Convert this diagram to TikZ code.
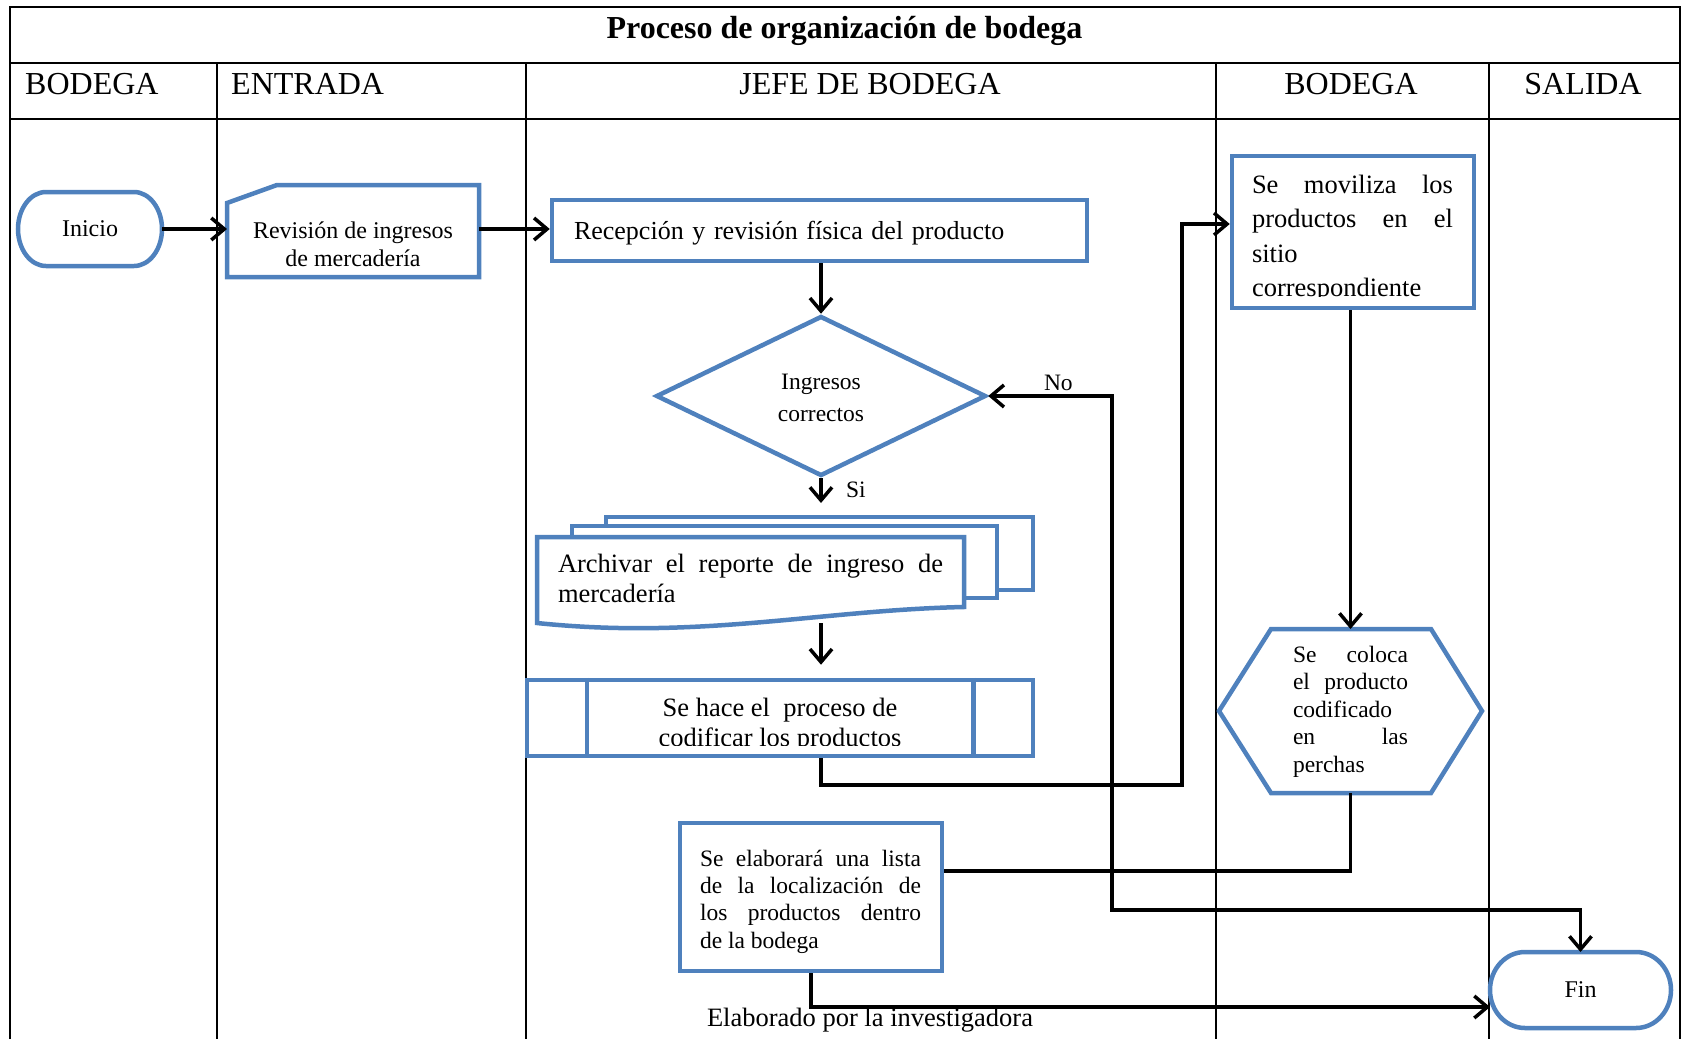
\documentclass[tikz,border=0pt]{standalone}
\usepackage{fontspec}
\setmainfont{Liberation Serif}
\usetikzlibrary{arrows.meta,calc,shapes.geometric}
\definecolor{boxblue}{RGB}{79,129,189}
\newcommand\fsz[2]{\fontsize{#1}{#2}\selectfont}
\newcommand\termpath[3]{%
  \draw[bluebox] ([xshift=#2]#1.north west) -- ([xshift=-#2]#1.north east)
    arc[start angle=90, end angle=-90, x radius=#2, y radius=#3]
    -- ([xshift=#2]#1.south west)
    arc[start angle=270, end angle=90, x radius=#2, y radius=#3] -- cycle;}
\tikzset{
  frameline/.style={line width=2pt, black},
  bluebox/.style={draw=boxblue, line width=4.5pt},
  shapebox/.style={draw=none, inner sep=0pt, outer sep=0pt},
  barb/.tip={Straight Barb[length=13pt,width=22pt,line width=3.5pt]},
  arr/.style={line width=3.5pt, -barb},
  biarr/.style={line width=3.5pt, barb-barb},
  conn/.style={line width=3.5pt},
  hdr/.style={font=\fsz{32}{38}, inner sep=0pt, anchor=base},
  txt/.style={inner sep=0pt, outer sep=0pt},
}
\begin{document}
\begin{tikzpicture}[x=1pt,y=-1pt]
\useasboundingbox (0,0) rectangle (1684,1039);
% frame
\draw[frameline] (10,1039) -- (10,7) -- (1680,7) -- (1680,1039);
\draw[frameline] (10,63) -- (1680,63) (10,119) -- (1680,119);
\draw[frameline] (217,63) -- (217,1039) (526,63) -- (526,1039) (1216,63) -- (1216,1039) (1489,63) -- (1489,1039);
% title and headers
\node[hdr, font=\bfseries\fsz{32}{38}] (title) at (844.5,38.3) {Proceso de organización de bodega};
\node[hdr, anchor=base west] (h1) at (25,94.3) {BODEGA};
\node[hdr, anchor=base west] (h2) at (231,94.3) {ENTRADA};
\node[hdr] (h3) at (870,94.3) {JEFE DE BODEGA};
\node[hdr] (h4) at (1351,94.3) {BODEGA};
\node[hdr] (h5) at (1583,94.3) {SALIDA};
% Inicio
\node[shapebox, minimum width=144pt, minimum height=74pt, font=\fsz{24}{28}] (ini) at (90,229) {Inicio};
\termpath{ini}{28pt}{37pt}
% Revision (card)
\node[shapebox, minimum width=252pt, minimum height=92pt] (rev) at (353,231) {};
\draw[bluebox] ([yshift=-18pt]rev.north west) -- ([xshift=50pt]rev.north west) -- (rev.north east) -- (rev.south east) -- (rev.south west) -- cycle;
\node[txt, anchor=north, align=center, font=\fsz{24}{28}] (revtxt) at (353,221.5) {Revisión de ingresos\\de mercadería};
% Recepcion
\node[bluebox, inner sep=0pt, inner xsep=22pt, minimum width=535pt, minimum height=61pt, text width=491pt, text depth=1pt, align=left, font=\fsz{26}{32}] (rec) at (819.5,230.5) {Recepción y revisión física del producto};
% Decision
\node[bluebox, shape=diamond, aspect=2.0625, minimum width=330pt, minimum height=160pt, inner sep=0pt, align=center, font=\fsz{23.5}{31.7}] (dia) at (821,396) {\rule{0pt}{19pt}Ingresos\\correctos};
% Multi-document
\draw[bluebox, fill=white] (606,517) rectangle (1033,590);
\draw[bluebox, fill=white] (572,526) rectangle (997,598);
\draw[bluebox, fill=white] (537,537) -- (964,537) -- (964,607) .. controls (820,610) and (700,640) .. (537,623) -- cycle;
\node[shapebox, minimum width=427pt, minimum height=86pt] (arch) at (750.5,580) {};
\node[txt, anchor=north west, align=left, font=\fsz{26.5}{30}] (archtxt) at (558,554.5) {\makebox[385pt][s]{Archivar el reporte de ingreso de}\\mercadería};
% Predefined process
\node[bluebox, minimum width=506pt, minimum height=76pt, inner sep=0pt] (pre) at (780,718) {};
\draw[bluebox] ([xshift=62pt]pre.north west) -- ([xshift=62pt]pre.south west) ([xshift=-62pt]pre.north east) -- ([xshift=-62pt]pre.south east);
\begin{scope}
\clip (560,682) rectangle (1000,745);
\node[txt, anchor=north, align=center, font=\fsz{26.5}{30}] (pretxt) at (780,698) {Se hace el\ \ proceso de\\codificar los productos};
\end{scope}
% Se moviliza
\node[bluebox, minimum width=242pt, minimum height=152pt, inner sep=0pt] (mov) at (1353,232) {};
\begin{scope}
\clip (1234,158) rectangle (1472,296);
\node[txt, anchor=north west, align=left, font=\fsz{26.5}{34.5}] (movtxt) at (1252,175) {\makebox[201pt][s]{Se moviliza los}\\\makebox[201pt][s]{productos en el}\\sitio\\correspondiente};
\end{scope}
% Hexagon
\node[shapebox, minimum width=263pt, minimum height=164pt] (hex) at (1350.5,711) {};
\draw[bluebox] (hex.west) -- ([xshift=52pt]hex.north west) -- ([xshift=-51pt]hex.north east) -- (hex.east) -- ([xshift=-51pt]hex.south east) -- ([xshift=52pt]hex.south west) -- cycle;
\node[txt, anchor=north west, align=left, font=\fsz{23.5}{27.5}] (hextxt) at (1293,646) {\makebox[115pt][s]{Se coloca}\\\makebox[115pt][s]{el producto}\\codificado\\\makebox[115pt][s]{en las}\\perchas};
% Se elaborara
\node[bluebox, minimum width=262pt, minimum height=148pt, inner sep=0pt] (elab) at (811,897) {};
\node[txt, anchor=north west, align=left, font=\fsz{23.5}{27.3}] (elabtxt) at (700,850) {\makebox[221pt][s]{Se elaborará una lista}\\\makebox[221pt][s]{de la localización de}\\\makebox[221pt][s]{los productos dentro}\\de la bodega};
% Fin
\node[shapebox, minimum width=181pt, minimum height=76pt, font=\fsz{24}{28}] (fin) at (1580.5,990) {Fin};
\termpath{fin}{35pt}{38pt}
% footer
\node[txt, anchor=base west, font=\fsz{26.5}{32}] (credit) at (707,1026.7) {Elaborado por la investigadora};
% connectors
\coordinate (xr) at (1182,785);
\coordinate (nl) at (1112,910);
\draw[arr] (ini.east) -- (ini.east -| rev.west);
\draw[arr] (ini.east -| rev.east) -- (ini.east -| rec.west);
\draw[arr] (rec.south -| dia.north) -- (dia.north);
\draw[arr, shorten >=34pt] (dia.south) -- (dia.south |- arch.north);
\draw[arr, shorten >=13pt] (arch.south -| dia.south) -- (pre.north -| dia.south);
\draw[arr] (pre.south -| dia.south) |- (xr) |- ([yshift=8pt]mov.west);
\draw[arr] (mov.south -| hex.north) -- (hex.north);
\draw[conn] (hex.south) |- ([yshift=26pt]elab.east);
\draw[biarr] (fin.north) |- (nl) |- (dia.east);
\draw[arr] (elab.south) |- ([yshift=-17pt]fin.west);
% labels
\node[txt, anchor=base west, font=\fsz{23.5}{28}] (nolbl) at (1044,390) {No};
\node[txt, anchor=base west, font=\fsz{23.5}{28}] (silbl) at (846,497) {Si};
\end{tikzpicture}
\end{document}
